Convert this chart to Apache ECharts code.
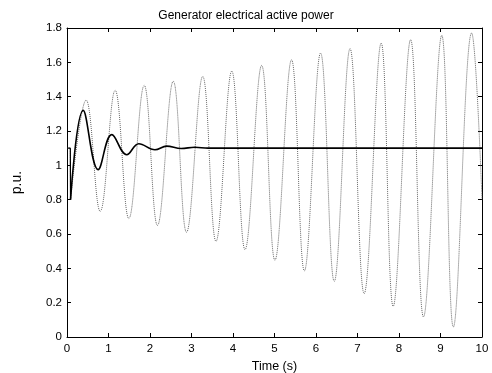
<!DOCTYPE html>
<html>
<head>
<meta charset="utf-8">
<script src="https://cdn.jsdelivr.net/npm/echarts@6/dist/echarts.min.js"></script>
<style>html,body{margin:0;padding:0;background:#fff}#c{width:492px;height:373px}</style>
</head>
<body>
<div id="c"></div>
<script>
// Time (s) / value (p.u.) pairs
const solidStep = [[0, 1.1], [0.08, 1.1], [0.085, 0.8]];
const solidWave = [[0.085, 0.8], [0.39, 1.32], [0.75, 0.975], [1.08, 1.179], [1.44, 1.062], [1.73, 1.126], [2.12, 1.091], [2.40, 1.112], [2.75, 1.098], [3.08, 1.105], [3.4, 1.1], [10, 1.1]];
const dottedStep = [[0, 1.1], [0.08, 1.1], [0.085, 0.8]];
const dottedWave = [[0.085, 0.8], [0.46, 1.38], [0.80, 0.732], [1.16, 1.437], [1.49, 0.69], [1.86, 1.466], [2.18, 0.65], [2.56, 1.49], [2.88, 0.61], [3.27, 1.518], [3.59, 0.557], [3.97, 1.549], [4.29, 0.509], [4.69, 1.582], [5.01, 0.447], [5.41, 1.615], [5.72, 0.385], [6.11, 1.654], [6.44, 0.324], [6.82, 1.68], [7.16, 0.253], [7.57, 1.712], [7.86, 0.179], [8.28, 1.732], [8.59, 0.117], [9.03, 1.757], [9.31, 0.058], [9.75, 1.771], [10, 0.8]];
const xTicks = [0, 1, 2, 3, 4, 5, 6, 7, 8, 9, 10];
const yTicks = [0, 0.2, 0.4, 0.6, 0.8, 1, 1.2, 1.4, 1.6, 1.8];

const font = 'Liberation Sans, Arial, sans-serif';
const chart = echarts.init(document.getElementById('c'));
const axisCommon = {
  axisLine: {show: true, onZero: false, lineStyle: {color: '#000', width: 1}},
  axisTick: {show: true, inside: true, length: 4, lineStyle: {color: '#000'}},
  splitLine: {show: false}
};
chart.setOption({
  animation: false,
  title: {text: 'Generator electrical active power', left: 'center', top: 5,
    textStyle: {fontFamily: font, fontSize: 12, fontWeight: 'normal', color: '#000'}},
  grid: {left: 67, right: 10, top: 28, bottom: 36, containLabel: false, outerBoundsMode: 'none'},
  xAxis: [
    Object.assign({type: 'value', min: xTicks[0], max: xTicks[xTicks.length-1], interval: 1, position: 'bottom',
      name: 'Time (s)', nameLocation: 'middle', nameGap: 21,
      nameTextStyle: {fontFamily: font, fontSize: 12.5, color: '#000'},
      axisLabel: {fontFamily: font, fontSize: 11.5, color: '#000', margin: 6}}, axisCommon),
    Object.assign({type: 'value', min: xTicks[0], max: xTicks[xTicks.length-1], interval: 1, position: 'top',
      axisLabel: {show: false}}, axisCommon)
  ],
  yAxis: [
    Object.assign({type: 'value', min: yTicks[0], max: yTicks[yTicks.length-1], interval: 0.2, position: 'left',
      name: 'p.u.', nameLocation: 'middle', nameGap: 43, nameRotate: 90,
      nameTextStyle: {fontFamily: font, fontSize: 14, color: '#000'},
      axisLabel: {fontFamily: font, fontSize: 11.5, color: '#000', margin: 5}}, axisCommon),
    Object.assign({type: 'value', min: yTicks[0], max: yTicks[yTicks.length-1], interval: 0.2, position: 'right',
      axisLabel: {show: false}}, axisCommon)
  ],
  series: [
    {type: 'line', data: dottedStep, showSymbol: false, lineStyle: {color: '#666', width: 1, type: 'dotted'}},
    {type: 'line', data: dottedWave, showSymbol: false, smooth: 0.4, lineStyle: {color: '#666', width: 1, type: [1, 1]}},
    {type: 'line', data: solidStep, showSymbol: false, lineStyle: {color: '#000', width: 1.2}},
    {type: 'line', data: solidWave, showSymbol: false, smooth: 0.4, lineStyle: {color: '#000', width: 1.6}}
  ]
});
</script>
</body>
</html>
